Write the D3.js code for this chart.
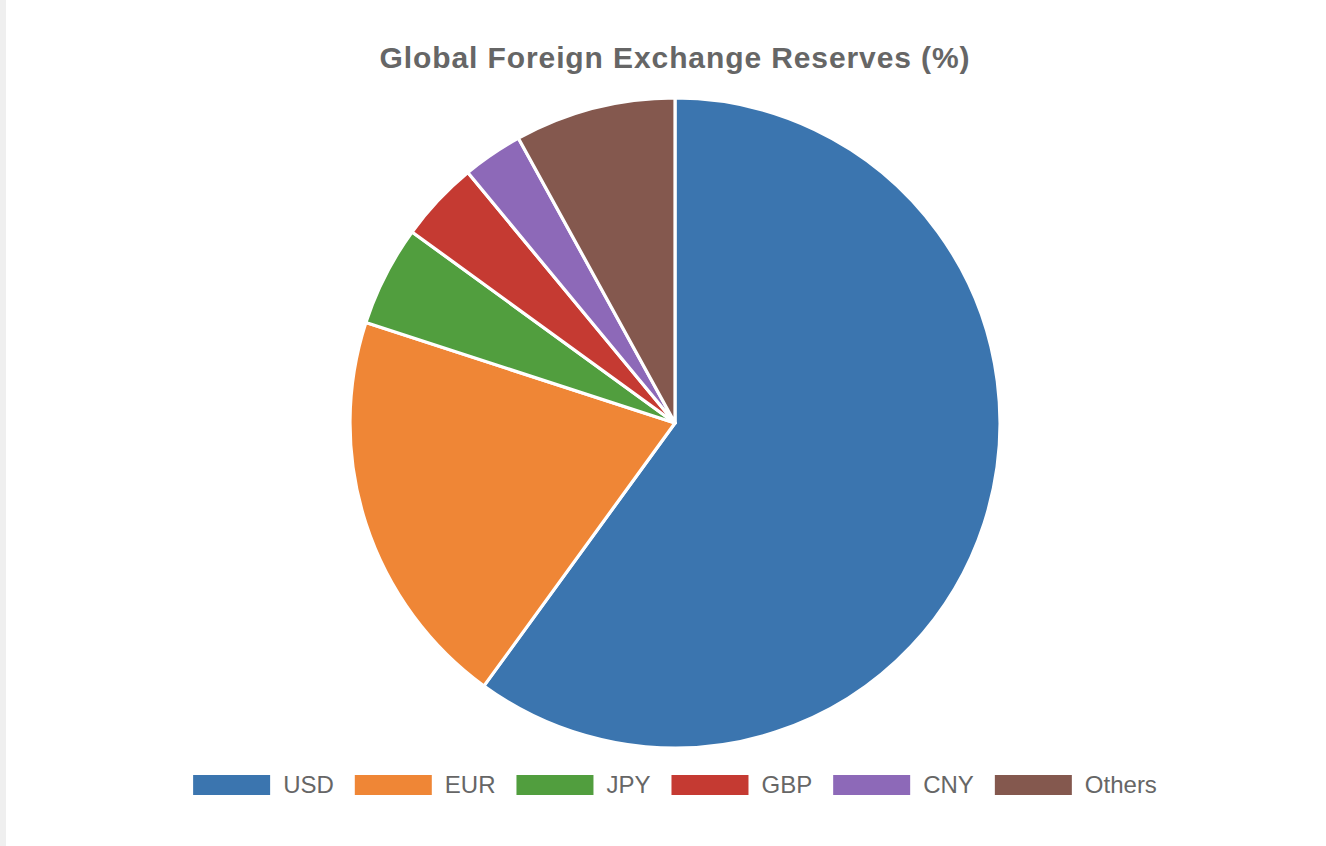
<!DOCTYPE html>
<html>
<head>
<meta charset="utf-8">
<script src="https://cdn.jsdelivr.net/npm/d3@7"></script>
<style>
  html, body { margin: 0; padding: 0; background: #fff; }
  body { border-left: 6px solid #efefef; }
  svg { display: block; }
  text { font-family: "Liberation Sans", Arial, Helvetica, sans-serif; fill: #666; }
</style>
</head>
<body>
<script>
const currencies = ["USD", "EUR", "JPY", "GBP", "CNY", "Others"];
const shares = [60, 20, 5, 4, 3, 8]; // percent of reserves
const sliceColors = ["#3b75af", "#ef8636", "#519e3e", "#c53a32", "#8d69b8", "#84584e"];

const width = 1320;
const height = 846;
const cx = 669, cy = 423; // body is shifted 6px by the border
const radius = 325;

const svg = d3.select("body").append("svg")
    .attr("width", width)
    .attr("height", height);

// title
svg.append("text")
    .attr("x", cx)
    .attr("y", 68)
    .attr("text-anchor", "middle")
    .style("font-size", "30px")
    .style("font-weight", "bold")
    .style("letter-spacing", "0.9px")
    .text("Global Foreign Exchange Reserves (%)");

const color = d3.scaleOrdinal().domain(currencies).range(sliceColors);

const pie = d3.pie().sort(null).value(d => d.value);
const arc = d3.arc().innerRadius(0).outerRadius(radius);

const data = currencies.map((c, i) => ({name: c, value: shares[i]}));

svg.append("g")
    .attr("transform", `translate(${cx},${cy})`)
    .selectAll("path")
    .data(pie(data))
    .enter()
    .append("path")
    .attr("d", arc)
    .attr("fill", d => color(d.data.name))
    .attr("stroke", "#fff")
    .attr("stroke-width", 3.2)
    .attr("stroke-linejoin", "round");

// legend, laid out in one centered row
const boxW = 77, boxH = 20, boxGap = 13, itemGap = 21;
const legend = svg.append("g");
const items = legend.selectAll("g")
    .data(currencies)
    .enter()
    .append("g");

items.append("rect")
    .attr("width", boxW)
    .attr("height", boxH)
    .attr("fill", d => color(d));

items.append("text")
    .attr("x", boxW + boxGap)
    .attr("y", 18)
    .style("font-size", "24px")
    .text(d => d);

let offsets = [];
let total = 0;
items.each(function () {
    const tw = d3.select(this).select("text").node().getComputedTextLength();
    offsets.push(total);
    total += boxW + boxGap + tw + itemGap;
});
total -= itemGap;

items.attr("transform", (d, i) => `translate(${offsets[i]},0)`);
legend.attr("transform", `translate(${cx - total / 2},775)`);
</script>
</body>
</html>
